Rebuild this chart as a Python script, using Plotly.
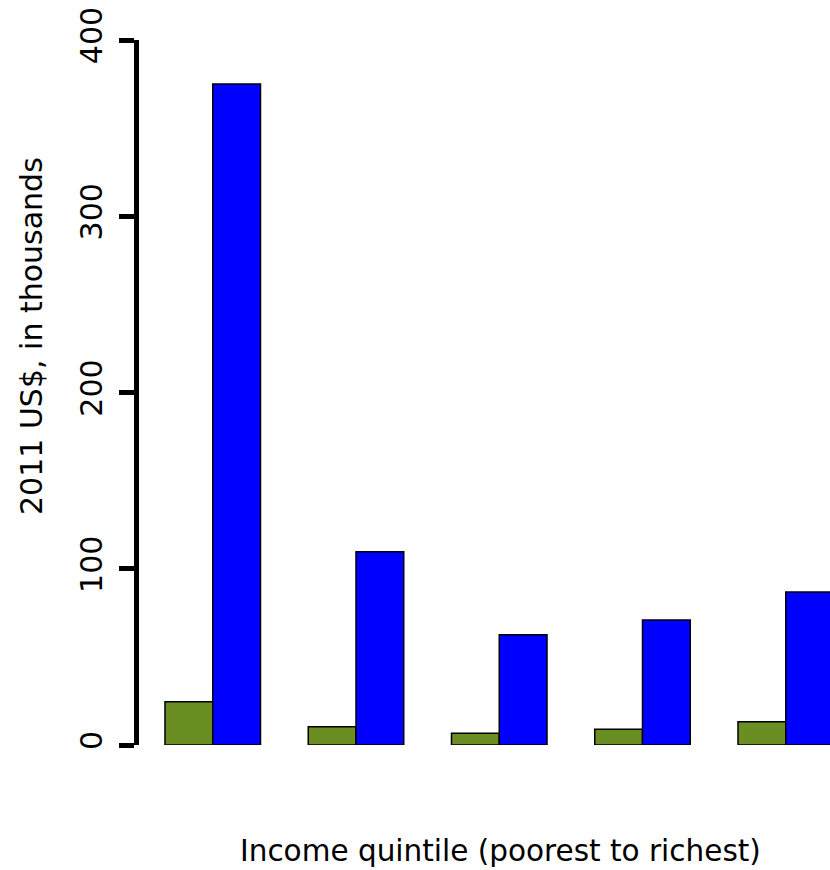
import plotly.graph_objects as go

# ---- data ----
quintiles = ["Q1", "Q2", "Q3", "Q4", "Q5"]
income = [24.6, 10.4, 6.6, 8.9, 13.2]
wealth = [375, 109.6, 62.6, 70.9, 86.8]
y_ticks = [0, 100, 200, 300, 400]
y_title = "2011 US$, in thousands"
x_title = "Income quintile (poorest to richest)"

W_FIG, H_FIG = 830, 870
L = 139
TOP, BOTTOM = 40, 745
PX_PER_CAT = 143.25
c0 = -0.5288 + (L - 137) / PX_PER_CAT
c1 = c0 + (W_FIG - L) / PX_PER_CAT

FONT = "DejaVu Sans"

fig = go.Figure()
fig.add_trace(go.Bar(x=quintiles, y=income, name="Income",
                     marker=dict(color="#6B8E23", line=dict(color="black", width=1.5))))
fig.add_trace(go.Bar(x=quintiles, y=wealth, name="Wealth",
                     marker=dict(color="#0000FF", line=dict(color="black", width=1.5))))

def px_to_paper_x(px):
    return (px - L) / (W_FIG - L)

def px_to_paper_y(py):
    return (BOTTOM - py) / (BOTTOM - TOP)

fig.update_layout(
    width=W_FIG, height=H_FIG,
    margin=dict(l=L, r=0, t=TOP, b=H_FIG - BOTTOM, pad=0),
    plot_bgcolor="white", paper_bgcolor="white",
    barmode="group", bargap=1/3, bargroupgap=0,
    showlegend=False,
    font=dict(family=FONT, size=30, color="black"),
    xaxis=dict(type="category", range=[c0, c1], showticklabels=False,
               showline=False, showgrid=False, zeroline=False, ticks=""),
    yaxis=dict(range=[0, 400], tickvals=y_ticks, ticktext=[str(v) for v in y_ticks],
               tickangle=-90, ticks="outside", ticklen=15, tickwidth=5, tickcolor="black",
               ticklabelstandoff=5,
               showline=True, linewidth=5, linecolor="black",
               showgrid=False, zeroline=False,
               tickfont=dict(family=FONT, size=30, color="black")),
    annotations=[
        dict(text=y_title, textangle=-90, xref="paper", yref="paper",
             x=px_to_paper_x(31), y=px_to_paper_y(336), xanchor="center", yanchor="middle",
             showarrow=False, font=dict(family=FONT, size=30, color="black")),
        dict(text=x_title, xref="paper", yref="paper",
             x=px_to_paper_x(500), y=px_to_paper_y(851), xanchor="center", yanchor="middle",
             showarrow=False, font=dict(family=FONT, size=29.5, color="black")),
    ],
)

fig.write_html("out.html")
